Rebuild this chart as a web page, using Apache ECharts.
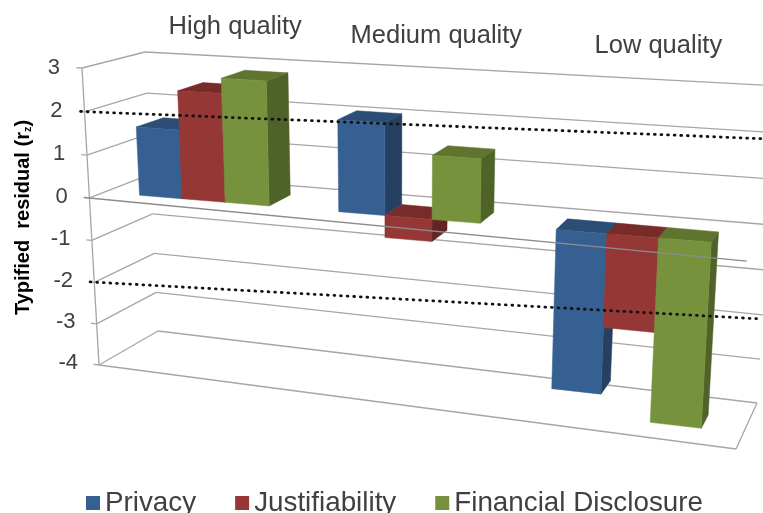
<!DOCTYPE html>
<html>
<head>
<meta charset="utf-8">
<style>html,body{margin:0;padding:0;background:#fff}#chart{width:763px;height:513px}</style>
<script src="https://cdn.jsdelivr.net/npm/echarts@6/dist/echarts.min.js"></script>
</head>
<body>
<div id="chart"></div>
<script>
// Typified residuals per quality group
const categories = ['High quality', 'Medium quality', 'Low quality'];
const privacy = [1.6, 2.08, -3.57];
const justifiability = [2.5, -0.5, -2.07];
const financialDisclosure = [2.85, 1.43, -4.08];
const valueTicks = [3, 2, 1, 0, -1, -2, -3, -4];
const upperLimit = 2;
const lowerLimit = -2;

const FONT = '"Liberation Sans", Arial, sans-serif';
const GRID = { left: 90, top: 70, width: 640, height: 295 };

// Corners of the 3D box as seen by the viewer: [x, y] for front/back, left/right, bottom/top
const BOX = {
  flb: [99, 365], flt: [82, 68], blb: [158, 331], blt: [145, 52],
  frb: [736, 449], frt: [755, 115], brb: [757, 403], brt: [778, 86]
};
const GROUP_PITCH = 0.99, BAR_MARGIN = 0.185, BAR_WIDTH = 0.218, BAR_FAR = 0.70;
// The near face drifts back a little towards the right of the box
const barNear = t => 0.24 + 0.06 * t;

const mix = (a, b, k) => [a[0] + (b[0] - a[0]) * k, a[1] + (b[1] - a[1]) * k];

// Turns a category position, value and depth into a screen point,
// reading the two data coordinates through the chart's own axes.
function project(api, t, val, depth) {
  const p = api.coord([t, val]);
  const tn = (p[0] - GRID.left) / GRID.width;
  const vn = (GRID.top + GRID.height - p[1]) / GRID.height;
  const u = tn / (1.16 - 0.16 * tn);              // foreshortening along the categories
  const h = vn - 0.037 * vn * (1 - vn);           // slight foreshortening along the values
  const front = mix(mix(BOX.flb, BOX.flt, h), mix(BOX.frb, BOX.frt, h), u);
  const back = mix(mix(BOX.blb, BOX.blt, h), mix(BOX.brb, BOX.brt, h), u);
  return mix(front, back, depth);
}

const GRID_COLOR = '#a6a6a6';
const line = (a, b, color, width) => ({
  type: 'line', shape: { x1: a[0], y1: a[1], x2: b[0], y2: b[1] },
  style: { stroke: color || GRID_COLOR, lineWidth: width || 1.3 }
});

// Walls, floor, ticks, value labels and group captions
function renderFrame(params, api) {
  const kids = [];
  const tMax = categories.length;
  valueTicks.forEach(v => {
    const a = project(api, 0, v, 0), b = project(api, 0, v, 1), c = project(api, tMax, v, 1);
    kids.push(line(a, b), line(b, c), line(project(api, -0.03, v, 0), a));
    const lab = project(api, -0.115, v, 0);
    kids.push({
      type: 'text', x: lab[0], y: lab[1] + 1,
      style: { text: String(v), font: '22px ' + FONT, fill: '#404040', align: 'right', verticalAlign: 'middle' }
    });
  });
  const vMin = valueTicks[valueTicks.length - 1];
  kids.push(line(project(api, 0, valueTicks[0], 0), project(api, 0, vMin, 0)));
  kids.push(line(project(api, 0, vMin, 0), project(api, tMax, vMin, 0)));
  kids.push(line(project(api, tMax, vMin, 0), project(api, tMax, vMin, 1)));
  categories.forEach((name, i) => {
    const p = project(api, i + 0.5, 3.72, 1);
    kids.push({
      type: 'text', x: p[0] - 2, y: p[1],
      style: { text: name, font: '25.5px ' + FONT, fill: '#404040', align: 'center', verticalAlign: 'middle' }
    });
  });
  return { type: 'group', children: kids };
}

const poly = (points, fill) => ({ type: 'polygon', shape: { points }, style: { fill, stroke: fill, lineWidth: 0.5 } });

// One 3D column: front, top and right faces
function barRenderer(slot, shades) {
  return function (params, api) {
    const i = api.value(0), val = api.value(1);
    const t0 = i * GROUP_PITCH + BAR_MARGIN + slot * BAR_WIDTH, t1 = t0 + BAR_WIDTH;
    const n0 = barNear(t0), n1 = barNear(t1);
    const hi = Math.max(val, 0), lo = Math.min(val, 0);
    return {
      type: 'group',
      children: [
        poly([project(api, t1, hi, n1), project(api, t1, hi, BAR_FAR), project(api, t1, lo, BAR_FAR), project(api, t1, lo, n1)], shades.side),
        poly([project(api, t0, hi, n0), project(api, t1, hi, n1), project(api, t1, hi, BAR_FAR), project(api, t0, hi, BAR_FAR)], shades.top),
        poly([project(api, t0, hi, n0), project(api, t1, hi, n1), project(api, t1, lo, n1), project(api, t0, lo, n0)], shades.front)
      ]
    };
  };
}

// Category axis at zero and the two dotted limits, on top of the columns
function renderOverlay(params, api) {
  const tMax = categories.length;
  const dotted = (a, b) => ({
    type: 'line', shape: { x1: a[0], y1: a[1], x2: b[0], y2: b[1] },
    style: { stroke: '#111', lineWidth: 2.8, lineDash: [0.8, 5.8], lineCap: 'round' }
  });
  return {
    type: 'group',
    children: [
      line(project(api, -0.03, 0, 0), project(api, tMax, 0, 0), '#8c8c8c', 1.4),
      dotted(project(api, -0.02, upperLimit, 0), project(api, tMax, upperLimit, 0.8)),
      dotted(project(api, -0.022, lowerLimit, 0), project(api, tMax, lowerLimit, 0.9))
    ]
  };
}

const measures = [
  { name: 'Privacy', values: privacy, shades: { front: '#376092', top: '#2c4d75', side: '#254061' } },
  { name: 'Justifiability', values: justifiability, shades: { front: '#953735', top: '#772c2a', side: '#632523' } },
  { name: 'Financial Disclosure', values: financialDisclosure, shades: { front: '#76923c', top: '#5f752f', side: '#4f6228' } }
];

const chart = echarts.init(document.getElementById('chart'), null, { renderer: 'canvas' });
chart.setOption({
  animation: false,
  backgroundColor: '#fff',
  grid: GRID,
  xAxis: { type: 'value', min: 0, max: categories.length, interval: 1, show: false },
  yAxis: {
    type: 'value', min: -4, max: 3, interval: 1,
    axisLine: { show: false }, axisTick: { show: false }, axisLabel: { show: false }, splitLine: { show: false },
    name: '{a|Typified  residual (r}{b|z}{a|)}', nameLocation: 'middle', nameGap: 57, nameRotate: 90,
    nameTextStyle: {
      rich: {
        a: { fontFamily: FONT, fontWeight: 'bold', fontSize: 20, color: '#000' },
        b: { fontFamily: FONT, fontWeight: 'bold', fontSize: 11, color: '#000', verticalAlign: 'bottom', padding: [8, 0, 0, 0] }
      }
    }
  },
  legend: {
    left: 81, top: 484, icon: 'rect', itemWidth: 14, itemHeight: 14, itemGap: 39,
    data: measures.map(m => m.name),
    textStyle: { fontFamily: FONT, fontSize: 27.8, color: '#404040' }
  },
  series: [
    { type: 'custom', name: 'frame', silent: true, z: 1, clip: false, data: [[0, 0]], renderItem: renderFrame }
  ].concat(measures.map((m, slot) => ({
    type: 'custom', name: m.name, z: 2 + slot, clip: false,
    itemStyle: { color: m.shades.front },
    data: m.values.map((v, i) => [i, v]),
    renderItem: barRenderer(slot, m.shades)
  }))).concat([
    { type: 'custom', name: 'limits', silent: true, z: 6, clip: false, data: [[0, 0]], renderItem: renderOverlay }
  ])
});
</script>
</body>
</html>
